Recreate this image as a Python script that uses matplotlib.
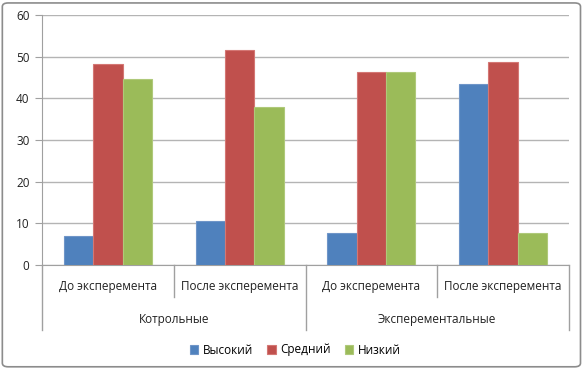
import numpy as np
import matplotlib.pyplot as plt
from matplotlib.patches import FancyBboxPatch
import matplotlib.transforms as mtransforms

plt.rcParams['font.family'] = ['Open Sans', 'DejaVu Sans']

subcats = ['До эксперемента', 'После эксперемента', 'До эксперемента', 'После эксперемента']
groups = ['Котрольные', 'Эксперементальные']
series = ['Высокий', 'Средний', 'Низкий']
vysokiy = [6.9, 10.5, 7.7, 43.4]
sredniy = [48.2, 51.6, 46.2, 48.7]
nizkiy = [44.6, 37.9, 46.2, 7.7]
colors = ['#4F81BD', '#C0504D', '#9BBB59']
edges = ['#6f95c8', '#d47774', '#afc97a']

fig = plt.figure(figsize=(5.84, 3.69), dpi=100)
ax = fig.add_axes([42/584, 1-265/369, 527/584, 250/369])

x = np.arange(len(subcats))
w = 1/4.5
for i, (vals, c, ec) in enumerate(zip([vysokiy, sredniy, nizkiy], colors, edges)):
    ax.bar(x + (i-1)*w, vals, w, color=c, edgecolor=ec, linewidth=0.8,
           label=series[i], zorder=3)

ax.set_xlim(-0.5, len(subcats)-0.5)
ax.set_ylim(0, 60)
ax.set_yticks(range(0, 61, 10))
ax.tick_params(axis='y', length=5, color='#a0a0a0', labelsize=8.5,
               labelcolor='#222222', pad=4)
ax.set_xticks([])
ax.yaxis.grid(True, color='#b4b4b4', linewidth=1, zorder=0)
for s in ['top', 'right']:
    ax.spines[s].set_visible(False)
for s in ['left', 'bottom']:
    ax.spines[s].set_color('#a0a0a0')

# multi-level category axis
tr = mtransforms.blended_transform_factory(ax.transData, ax.transAxes)
for xi, lab in zip(x, subcats):
    ax.text(xi, -0.085, lab, transform=tr, ha='center', va='center',
            fontsize=8.5, color='#222222')
for b in [0.5, 2.5]:
    ax.plot([b, b], [0, -0.128], transform=tr, color='#a0a0a0', lw=1, clip_on=False)
for b in [-0.5, 1.5, 3.5]:
    ax.plot([b, b], [0, -0.26], transform=tr, color='#a0a0a0', lw=1, clip_on=False)
for gi, g in enumerate(groups):
    ax.text(0.5 + 2*gi, -0.22, g, transform=tr, ha='center', va='center',
            fontsize=8.5, color='#222222')

fig.legend(loc='center', bbox_to_anchor=(0.506, 1-350/369), ncol=3, frameon=False,
           fontsize=8.5, handlelength=0.7, handleheight=0.7, handletextpad=0.4,
           columnspacing=1.2)

border = FancyBboxPatch((0.004, 0.006), 0.99, 0.986, boxstyle='round,pad=0,rounding_size=0.01',
                        transform=fig.transFigure, fill=False, edgecolor='#8c8c8c', lw=1.2)
fig.patches.append(border)

fig.savefig('out.png', dpi=100)
